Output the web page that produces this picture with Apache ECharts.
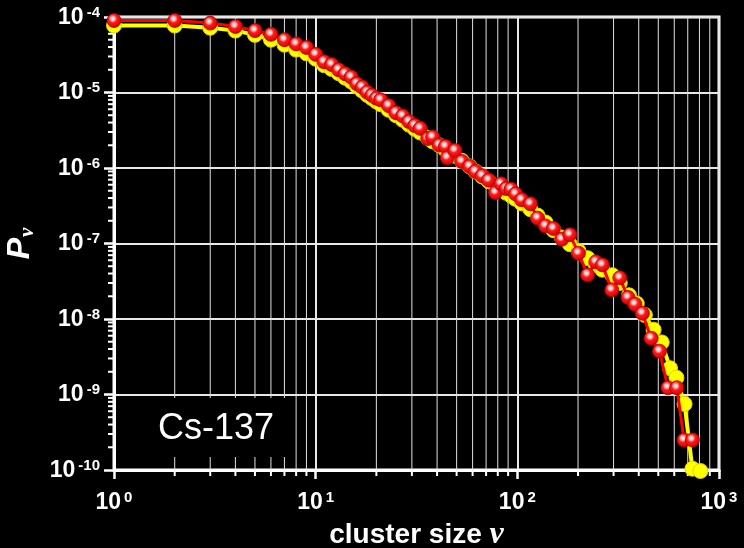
<!DOCTYPE html>
<html>
<head>
<meta charset="utf-8">
<script src="https://cdn.jsdelivr.net/npm/echarts@6/dist/echarts.min.js"></script>
<style>
  html, body { margin: 0; padding: 0; background: #000; }
  #chart { width: 744px; height: 548px; }
</style>
</head>
<body>
<div id="chart"></div>
<script>
// cluster size v and probability P_v
const redX = [1, 2, 3, 4, 5, 6, 7, 8, 9, 10, 11, 12, 13, 14, 15, 16, 17, 18, 19, 20, 21,
  23, 25, 27, 29, 31, 33, 36, 38, 41, 44, 45, 49, 53, 58, 62, 67, 72, 78, 83, 88, 93, 98,
  105, 116, 126, 138, 151, 166, 182, 201, 223, 245, 264,
  294, 322, 354, 383, 417, 461, 507, 558, 618, 671, 738];
const redP = [9.0e-5, 9.0e-5, 8.3e-5, 7.5e-5, 6.6e-5, 5.9e-5, 5.0e-5, 4.4e-5, 3.95e-5, 3.2e-5,
  2.55e-5, 2.35e-5, 2.0e-5, 1.77e-5, 1.6e-5, 1.31e-5, 1.18e-5, 1.01e-5, 9.2e-6, 8.4e-6, 8.0e-6,
  6.7e-6, 5.4e-6, 4.9e-6, 4.13e-6, 3.65e-6, 3.35e-6,
  2.46e-6, 2.57e-6, 2.01e-6, 1.93e-6, 1.37e-6, 1.71e-6, 1.22e-6, 1.05e-6, 9.0e-7, 7.9e-7, 6.9e-7,
  4.73e-7, 6.18e-7, 5.35e-7, 5.25e-7, 4.55e-7,
  3.8e-7, 3.36e-7, 2.17e-7, 1.71e-7, 1.58e-7, 1.14e-7, 1.31e-7, 7.45e-8, 3.84e-8, 5.71e-8, 5.21e-8,
  2.43e-8, 3.51e-8, 1.93e-8, 1.57e-8, 1.19e-8, 5.57e-9, 3.74e-9, 1.23e-9, 1.23e-9, 2.5e-10, 2.5e-10];

const yellowX = [1, 2, 3, 4, 5, 6, 7, 8, 9, 10, 11, 12, 13, 14, 15, 16, 17, 18, 19, 20, 21,
  23, 25, 27, 29, 31, 33, 36, 38, 41, 44, 45, 49, 53, 58, 62, 67, 72, 78, 83, 88, 93, 98,
  105, 116, 126, 138, 151, 166, 182, 201, 223, 245, 264,
  296, 322, 358, 391, 429, 474, 520, 572, 615, 675, 738, 809];
const yellowP = [7.7e-5, 7.7e-5, 7.2e-5, 6.6e-5, 5.8e-5, 5.0e-5, 4.3e-5, 3.7e-5, 3.3e-5, 2.8e-5,
  2.3e-5, 2.05e-5, 1.8e-5, 1.57e-5, 1.4e-5, 1.2e-5, 1.06e-5, 9.3e-6, 8.4e-6, 7.6e-6, 7.0e-6,
  5.9e-6, 5.0e-6, 4.35e-6, 3.75e-6, 3.3e-6, 2.95e-6,
  2.5e-6, 2.25e-6, 2.0e-6, 1.75e-6, 1.65e-6, 1.45e-6, 1.25e-6, 1.05e-6, 9.0e-7, 7.7e-7, 6.7e-7,
  5.8e-7, 5.2e-7, 4.7e-7, 4.3e-7, 3.9e-7,
  3.4e-7, 2.85e-7, 2.35e-7, 1.9e-7, 1.5e-7, 1.2e-7, 9.8e-8, 8.0e-8, 6.4e-8, 5.2e-8, 4.5e-8,
  3.8e-8, 3.0e-8, 2.06e-8, 1.6e-8, 1.13e-8, 7.2e-9, 4.9e-9, 2.23e-9, 1.67e-9, 7.5e-10, 1.04e-10, 0.97e-10];

// axis ranges and minor ticks (2..9 in each decade)
const xMin = 1, xMax = 1000;
const yMin = 1e-10, yMax = 1e-4;
const minorSteps = [2, 3, 4, 5, 6, 7, 8, 9];
const xDecades = [1, 10, 100];
const yDecades = [1e-10, 1e-9, 1e-8, 1e-7, 1e-6, 1e-5];

const minorX = [];
xDecades.forEach(d => minorSteps.forEach(m => minorX.push([m * d, yMin])));
const minorY = [];
yDecades.forEach(d => minorSteps.forEach(m => minorY.push([xMin, m * d])));

const FONT = '"Liberation Sans", Arial, sans-serif';

function powLabel(v) {
  const e = Math.round(Math.log10(v));
  return '{a|10}{b|' + e + '}';
}
// "10" sits low in the line box, exponent sits at the top
const labelRich = {
  a: { fontSize: 23, fontWeight: 'bold', color: '#fff', fontFamily: FONT, lineHeight: 24, padding: [3, 0, 0, 0], verticalAlign: 'bottom' },
  b: { fontSize: 15, fontWeight: 'bold', color: '#fff', fontFamily: FONT, lineHeight: 15, verticalAlign: 'top', padding: [0, 0, 0, 3] }
};

const redBall = new echarts.graphic.RadialGradient(0.42, 0.38, 0.62, [
  { offset: 0, color: '#ffffff' },
  { offset: 0.22, color: '#ffc0c0' },
  { offset: 0.45, color: '#ff1a1a' },
  { offset: 1, color: '#d00000' }
]);

const chart = echarts.init(document.getElementById('chart'));

chart.setOption({
  backgroundColor: '#000',
  animation: false,
  grid: {
    left: 114, right: 25, top: 17, bottom: 78,
    outerBoundsMode: 'none', containLabel: false,
    show: true, borderColor: '#fff', borderWidth: 3
  },
  xAxis: {
    type: 'log', logBase: 10, min: xMin, max: xMax,
    name: 'cluster size {v|ν}',
    nameLocation: 'middle', nameGap: 49,
    nameTextStyle: {
      color: '#fff', fontSize: 28, fontWeight: 'bold', fontFamily: FONT,
      rich: { v: { fontSize: 32, fontStyle: 'italic', fontWeight: 'bold', fontFamily: '"Liberation Serif", serif', color: '#fff' } }
    },
    axisLine: { lineStyle: { color: '#fff', width: 3 } },
    axisTick: { length: 9, lineStyle: { color: '#fff', width: 2.5 } },
    axisLabel: { margin: 20, formatter: powLabel, rich: labelRich },
    splitLine: { show: true, lineStyle: { color: '#e8e8e8', width: 2 } }
  },
  yAxis: {
    type: 'log', logBase: 10, min: yMin, max: yMax,
    name: '{p|P}{s|ν}',
    nameLocation: 'middle', nameRotate: 90, nameGap: 76,
    nameTextStyle: {
      rich: {
        p: { fontSize: 32, fontWeight: 'bold', fontStyle: 'italic', fontFamily: FONT, color: '#fff', lineHeight: 34, verticalAlign: 'top' },
        s: { fontSize: 21, fontWeight: 'bold', fontStyle: 'italic', fontFamily: '"Liberation Serif", serif', color: '#fff', lineHeight: 30, verticalAlign: 'bottom', padding: [0, 0, 0, 1] }
      }
    },
    axisLine: { lineStyle: { color: '#fff', width: 3 } },
    axisTick: { length: 10, lineStyle: { color: '#fff', width: 2.5 } },
    axisLabel: { margin: 14, formatter: powLabel, rich: labelRich },
    splitLine: { show: true, lineStyle: { color: '#e8e8e8', width: 2 } }
  },
  series: [
    {
      // minor vertical grid lines + minor ticks below the x axis
      type: 'custom', z: 1, silent: true,
      data: minorX,
      renderItem: function (params, api) {
        const p = api.coord([api.value(0), api.value(1)]);
        const top = api.coord([api.value(0), yMax]);
        return {
          type: 'group',
          children: [
            { type: 'line', shape: { x1: p[0], y1: p[1], x2: top[0], y2: top[1] }, style: { stroke: '#e0e0e0', lineWidth: 1 } },
            { type: 'line', shape: { x1: p[0], y1: p[1], x2: p[0], y2: p[1] + 6 }, style: { stroke: '#fff', lineWidth: 2 } }
          ]
        };
      }
    },
    {
      // minor ticks left of the y axis
      type: 'custom', z: 1, silent: true,
      data: minorY,
      renderItem: function (params, api) {
        const p = api.coord([api.value(0), api.value(1)]);
        return { type: 'line', shape: { x1: p[0], y1: p[1], x2: p[0] - 6, y2: p[1] }, style: { stroke: '#fff', lineWidth: 2 } };
      }
    },
    {
      type: 'line', z: 3, clip: false,
      data: yellowX.map((x, i) => [x, yellowP[i]]),
      symbol: 'circle', symbolSize: 15,
      lineStyle: { color: '#ffff00', width: 4 },
      itemStyle: { color: '#ffff00', borderColor: '#e0d000', borderWidth: 1 }
    },
    {
      type: 'line', z: 4, clip: false,
      data: redX.map((x, i) => [x, redP[i]]),
      symbol: 'circle', symbolSize: 14,
      lineStyle: { color: '#ff0000', width: 3 },
      itemStyle: { color: redBall, borderColor: '#b00000', borderWidth: 0.8 }
    }
  ],
  graphic: [
    { type: 'rect', z: 10, shape: { x: 116, y: 398, width: 174, height: 59 }, style: { fill: '#000' } },
    { type: 'text', z: 11, x: 216, y: 429,
      style: { text: 'Cs-137', fill: '#fff', font: '36px "Liberation Sans", Arial, sans-serif', align: 'center', verticalAlign: 'middle' } }
  ]
});
</script>
</body>
</html>
